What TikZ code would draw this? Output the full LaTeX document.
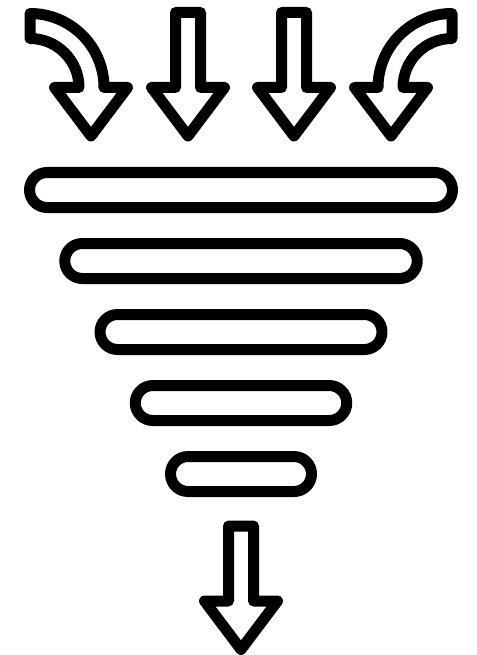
\documentclass[tikz,border=0pt]{standalone}
\usepackage{tikz}

\begin{document}
\begin{tikzpicture}[
  x=1pt, y=1pt,
  outline/.style={draw=black, line width=11pt, line join=round, line cap=round, fill=white},
  downarrow/.pic={\draw[outline] (-12.5,0) -- (12.5,0) -- (12.5,-75) -- (36.5,-75) -- (0,-123.5) -- (-36.5,-75) -- (-12.5,-75) -- cycle;},
  bentarrow/.pic={\draw[outline] (30,-13.5) arc (90:0:74) -- (127.5,-87.5) -- (91,-136) -- (54.5,-87.5) -- (79,-87.5) arc (0:90:49) -- cycle;}
]
\useasboundingbox (0,0) rectangle (476,-655);
% incoming arrows
\pic at (0,0) {bentarrow};
\pic at (188,-12.5) {downarrow};
\pic at (294,-12.5) {downarrow};
\pic[xscale=-1] at (482,0) {bentarrow};
% funnel bars
\foreach \k in {0,...,4} {
  \pgfmathsetmacro{\cy}{-190-71*\k}
  \pgfmathsetmacro{\hw}{194-35.25*\k}
  \draw[outline] (241-\hw,\cy+17.5) -- (241+\hw,\cy+17.5) arc (90:-90:17.5)
    -- (241-\hw,\cy-17.5) arc (270:90:17.5) -- cycle;
}
% outgoing arrow
\pic at (241,-526) {downarrow};
\end{tikzpicture}
\end{document}
